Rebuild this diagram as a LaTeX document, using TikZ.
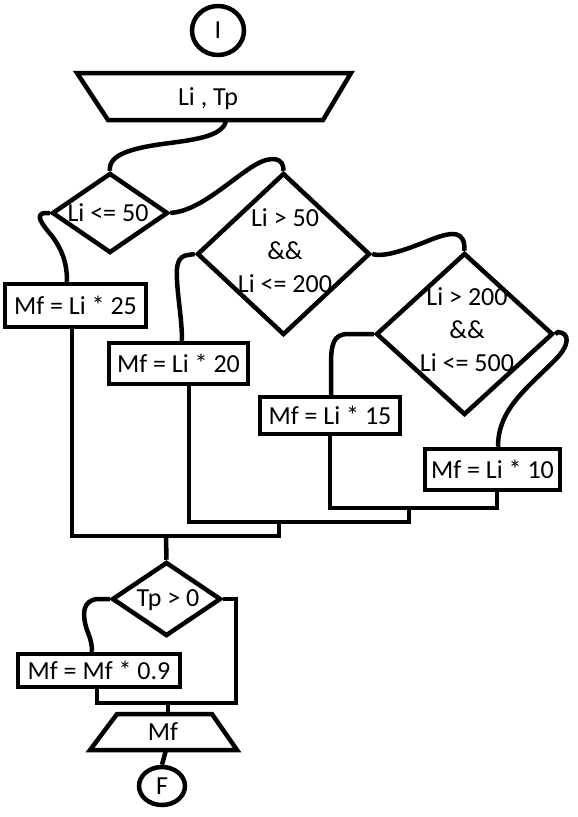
\documentclass[tikz,border=0pt]{standalone}
\usepackage{fontspec}
\setmainfont{Carlito}
\usetikzlibrary{shapes.geometric,calc}
\begin{document}
\begin{tikzpicture}[x=1pt,y=-1pt,line width=4.5pt,
  every node/.style={font=\fontsize{26}{33}\selectfont, inner sep=0pt},
  procbox/.style={draw, rectangle, line width=4.5pt},
  dia/.style={draw, diamond, line width=4.5pt},
  term/.style={draw, ellipse, line width=4.5pt},
  lbl/.style={align=center}]
\useasboundingbox (0,0) rectangle (578,817);

% start
\node[term, minimum width=52pt, minimum height=49pt] (ini) at (218,30.5) {I};

% input
\draw (77,73) -- (351,73) -- (323,120) -- (108,120) -- cycle;
\node (inp) at (208,99) {Li , Tp};
\coordinate (inpb) at (226,120);

% decisions
\node[dia, minimum width=116pt, minimum height=80pt] (d1) at (110,213) {};
\node (t1) at (108,213) {Li <= 50};
\node[dia, minimum width=173pt, minimum height=162pt] (d2) at (283.5,254) {};
\node[lbl] (t2) at (285,251) {Li > 50\\\&\&\\Li <= 200};
\node[dia, minimum width=177pt, minimum height=162pt] (d3) at (464.5,334) {};
\node[lbl] (t3) at (467,330) {Li > 200\\\&\&\\Li <= 500};

% process boxes
\node[procbox, minimum width=141pt, minimum height=43pt] (b25) at (75.5,305.5) {Mf = Li * 25};
\node[procbox, minimum width=139pt, minimum height=41pt] (b20) at (178.5,363.5) {Mf = Li * 20};
\node[procbox, minimum width=140pt, minimum height=37pt] (b15) at (330,415.5) {Mf = Li * 15};
\node[procbox, minimum width=135pt, minimum height=41pt] (b10) at (492.5,469.5) {Mf = Li * 10};

% Tp decision
\node[dia, minimum width=109pt, minimum height=74pt] (d4) at (166.5,599) {};
\node (t4) at (168,600) {Tp > 0};
\node[procbox, minimum width=162pt, minimum height=33pt] (b09) at (99,670.5) {Mf = Mf * 0.9};

% output
\draw (117,714) -- (212,714) -- (237,750) -- (90,750) -- cycle;
\node (out) at (163,732) {Mf};
\coordinate (outt) at (168,714);
\coordinate (outb) at (166,750);

% end
\node[term, minimum width=46pt, minimum height=38pt] (fin) at (162,786) {F};

% anchor points
\coordinate (b25n) at ([xshift=-8.5pt]b25.north);
\coordinate (b25s) at ([xshift=-3.5pt]b25.south);
\coordinate (b20n) at ([xshift=3.5pt]b20.north);
\coordinate (b20s) at ([xshift=10.5pt]b20.south);
\coordinate (b15n) at ([xshift=1pt]b15.north);
\coordinate (b15s) at (b15.south);
\coordinate (b10n) at ([xshift=5.5pt]b10.north);
\coordinate (b10s) at ([xshift=4.5pt]b10.south);
\coordinate (b09n) at ([xshift=-7pt]b09.north);
\coordinate (b09s) at ([xshift=-2pt]b09.south);
\coordinate (j1) at (409,508);
\coordinate (j2) at (279,522);
\coordinate (j3) at (166,536);
\coordinate (j4) at (236,703);

% curved connectors
\draw (inpb) .. controls (224,135) and (200,139) .. (170,143) .. controls (130,148) and (108,155) .. (d1.north);
\draw (d1.east) .. controls (200,211) and (230,180) .. (255,165) .. controls (272,155) and (284,158) .. (d2.north);
\draw (d1.west) -- (44,213) .. controls (36,215) and (40,222) .. (52,236) .. controls (62,250) and (67,262) .. (b25n);
\draw (d2.west) -- (188,255) .. controls (178,256) and (176,265) .. (177,280) .. controls (178,300) and (182,320) .. (b20n);
\draw (d2.east) .. controls (385,258) and (410,248) .. (430,240) .. controls (455,230) and (465,232) .. (d3.north);
\draw (d3.west) -- (348,334) .. controls (333,334) and (331,345) .. (331,365) -- (b15n);
\draw (d3.east) -- (558,332) .. controls (570,333) and (570,345) .. (555,360) .. controls (525,390) and (498,410) .. (b10n);

% merge lines
\draw (b15s) -- (b15s |- j1) -- (b10s |- j1) -- (b10s);
\draw (b20s) -- (b20s |- j2) -- (j1 |- j2) -- (j1);
\draw (b25s) -- (b25s |- j3) -- (j2 |- j3) -- (j2);
\draw (j3) -- (d4.north);

% bottom part
\draw (d4.west) -- (98,599) .. controls (82,600) and (82,615) .. (87,630) .. controls (91,640) and (92,645) .. (b09n);
\draw (d4.east) -- (d4.east -| j4) -- (j4) -- (b09s |- j4) -- (b09s);
\draw (outt |- j4) -- (outt);
\draw (outb) -- (fin.north);
\end{tikzpicture}
\end{document}
